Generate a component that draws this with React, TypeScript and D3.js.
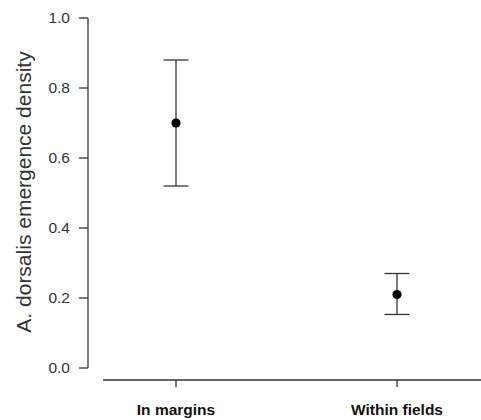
import React from "react";
import * as d3 from "d3";

const categories = ["In margins", "Within fields"];
const means = [0.7, 0.21];
const upper = [0.88, 0.27];
const lower = [0.52, 0.153];
const yTicks = [0, 0.2, 0.4, 0.6, 0.8, 1.0];

export default function App() {
  const W = 481, H = 420;
  const y = d3.scaleLinear().domain([0, 1]).range([368, 18]);
  const x = d3.scalePoint<string>().domain(categories).range([176, 397]);
  const axisX = 88;
  const baseY = 380;
  const col = "#333";
  const font = "'Liberation Sans', Arial, sans-serif";
  return (
    <svg width={W} height={H} style={{ position: "absolute", left: 0, top: 0 }}>
      <rect width={W} height={H} fill="#fff" />
      <line x1={axisX} x2={axisX} y1={y(0)} y2={y(1)} stroke={col} strokeWidth={1.3} />
      {yTicks.map((t) => (
        <g key={t}>
          <line x1={axisX - 9} x2={axisX} y1={y(t)} y2={y(t)} stroke={col} strokeWidth={1.3} />
          <text x={axisX - 18} y={y(t)} dy="0.35em" textAnchor="end" fontFamily={font} fontSize={15.5} fill={col}>
            {t.toFixed(1)}
          </text>
        </g>
      ))}
      <text
        transform={`translate(24,192) rotate(-90)`}
        textAnchor="middle"
        dy="0.35em"
        fontFamily={font}
        fontSize={21}
        fill={col}
      >
        A. dorsalis emergence density
      </text>
      <line x1={103} x2={W} y1={baseY} y2={baseY} stroke={col} strokeWidth={1.3} />
      {categories.map((c, i) => {
        const cx = x(c)!;
        return (
          <g key={c}>
            <line x1={cx} x2={cx} y1={baseY} y2={baseY + 7} stroke={col} strokeWidth={1.3} />
            <text x={cx} y={410} dy="0.35em" textAnchor="middle" fontFamily={font} fontWeight="bold" fontSize={15.5} fill="#111">
              {c}
            </text>
            <line x1={cx} x2={cx} y1={y(upper[i])} y2={y(lower[i])} stroke={col} strokeWidth={1.3} />
            <line x1={cx - 12.5} x2={cx + 12.5} y1={y(upper[i])} y2={y(upper[i])} stroke={col} strokeWidth={1.3} />
            <line x1={cx - 12.5} x2={cx + 12.5} y1={y(lower[i])} y2={y(lower[i])} stroke={col} strokeWidth={1.3} />
            <circle cx={cx} cy={y(means[i])} r={4.6} fill="#000" />
          </g>
        );
      })}
    </svg>
  );
}
